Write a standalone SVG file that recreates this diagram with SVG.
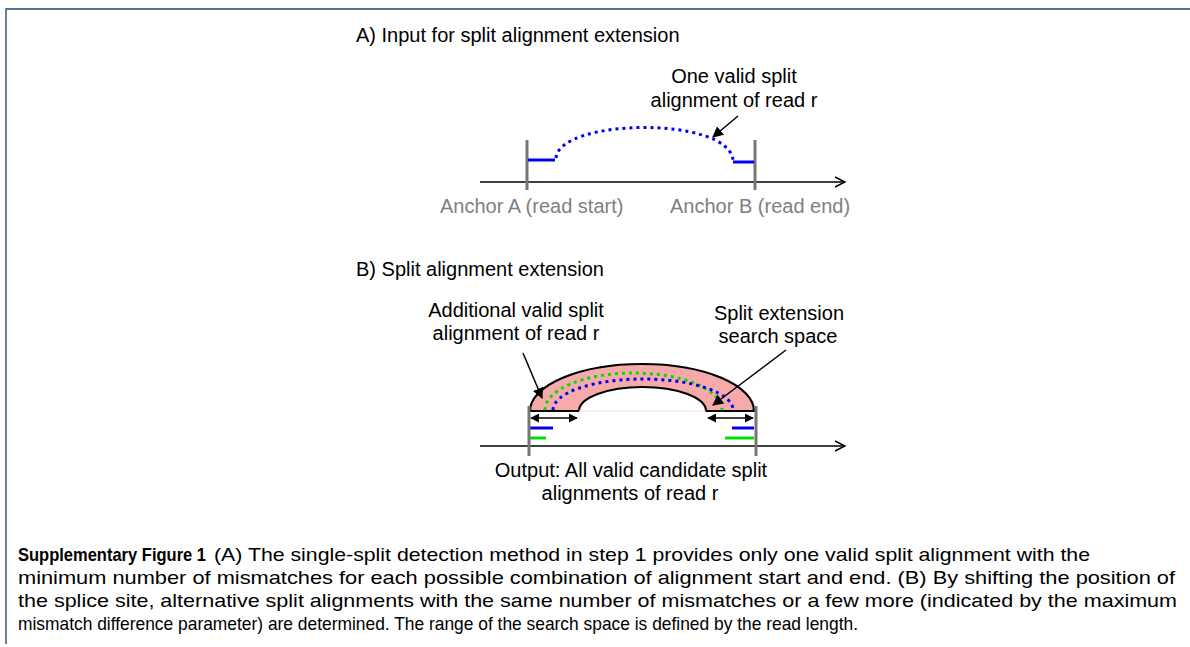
<svg xmlns="http://www.w3.org/2000/svg" width="1190" height="647" viewBox="0 0 1190 647">
<defs>
<style>
.t{font-family:"Liberation Sans",Arial,sans-serif;font-size:20px;fill:#000}
.g{fill:#7f7f7f}
.mid{text-anchor:middle}
.cap{font-family:"Liberation Sans",Arial,sans-serif;font-size:19px;fill:#000}
.axis{stroke:#000;stroke-width:1.5;fill:none}
.tick{stroke:#767676;stroke-width:3;fill:none}
.blue{stroke:#0000ee;stroke-width:3;fill:none}
.green{stroke:#00dd00;stroke-width:3;fill:none}
.bdot{stroke:#0000ee;stroke-width:3;fill:none;stroke-dasharray:3 4}
.gdot{stroke:#00dd00;stroke-width:3;fill:none;stroke-dasharray:3 4}
.ptr{stroke:#000;stroke-width:1.5;fill:none}
</style>
<marker id="open" viewBox="0 0 12 12" refX="11" refY="6" markerWidth="12" markerHeight="12" markerUnits="userSpaceOnUse" orient="auto">
<path d="M1,1 L11,6 L1,11" fill="none" stroke="#000" stroke-width="1.5"/>
</marker>
<marker id="solid" viewBox="0 0 10 10" refX="9" refY="5" markerWidth="11" markerHeight="11" markerUnits="userSpaceOnUse" orient="auto">
<path d="M0,0 L10,5 L0,10 z" fill="#000"/>
</marker>
<marker id="solidS" viewBox="0 0 10 10" refX="9" refY="5" markerWidth="9" markerHeight="9" markerUnits="userSpaceOnUse" orient="auto-start-reverse">
<path d="M0,0 L10,5 L0,10 z" fill="#000"/>
</marker>
</defs>
<rect width="1190" height="647" fill="#fff"/>
<g id="frame">
<path d="M6,644 L6,9 L1190,9" fill="none" stroke="#557499" stroke-width="1.8"/>
</g>

<g id="panelA">
<text class="t" x="356" y="42">A) Input for split alignment extension</text>
<g id="axisA"><line class="axis" x1="480" y1="182" x2="845" y2="182" marker-end="url(#open)"/></g>
<g id="anchorA"><line class="tick" x1="527" y1="140" x2="527" y2="190"/>
<text class="t g" x="440" y="213">Anchor A (read start)</text></g>
<g id="anchorB"><line class="tick" x1="755" y1="140" x2="755" y2="190"/>
<text class="t g" x="670" y="213">Anchor B (read end)</text></g>
<g id="splitA">
<line class="blue" x1="528" y1="160" x2="555" y2="160"/>
<line class="blue" x1="733" y1="162" x2="754" y2="162"/>
<path class="bdot" d="M556,158 C560,118 728,116 733,160"/>
</g>
<g id="labelA">
<text class="t mid" x="734" y="83">One valid split</text>
<text class="t mid" x="734" y="107">alignment of read r</text>
</g>
</g>

<g id="panelB">
<text class="t" x="356" y="276">B) Split alignment extension</text>
<g id="axisB"><line class="axis" x1="480" y1="446" x2="845" y2="446" marker-end="url(#open)"/></g>
<g id="searchspace">
<path d="M530,411 A112,47 0 0 1 754,411 L706,411 A63.5,24 0 0 0 579,411 Z" fill="#f7aaaa" stroke="none"/>
<path d="M579,411 L530,411 A112,47 0 0 1 754,411 L706,411 A63.5,24 0 0 0 579,411" fill="none" stroke="#000" stroke-width="2.2"/>
<line x1="579" y1="411" x2="706" y2="411" stroke="#fbe0e0" stroke-width="1"/>
</g>
<g id="splitsB">
<path class="gdot" d="M545,410 A88.5,37 0 0 1 722,410"/>
<path class="bdot" d="M553,410 A90,31 0 0 1 733,410"/>
<line class="blue" x1="530" y1="428" x2="553" y2="428"/>
<line class="blue" x1="732" y1="428" x2="754" y2="428"/>
<line class="green" x1="530" y1="438" x2="546" y2="438"/>
<line class="green" x1="725" y1="438" x2="754" y2="438"/>
</g>
<g id="ticksB">
<line class="tick" x1="529" y1="406" x2="529" y2="456"/>
<line class="tick" x1="756" y1="406" x2="756" y2="456"/>
</g>
<g id="ranges">
<line class="ptr" x1="531" y1="418" x2="577" y2="418" marker-start="url(#solidS)" marker-end="url(#solidS)"/>
<line class="ptr" x1="708" y1="418" x2="753" y2="418" marker-start="url(#solidS)" marker-end="url(#solidS)"/>
</g>
<g id="labelAdditional">
<text class="t mid" x="516" y="317">Additional valid split</text>
<text class="t mid" x="516" y="340">alignment of read r</text>
</g>
<g id="labelSearch">
<text class="t mid" x="779" y="320">Split extension</text>
<text class="t mid" x="778" y="343">search space</text>
</g>
<g id="labelOutput">
<text class="t mid" x="631" y="477">Output: All valid candidate split</text>
<text class="t mid" x="630" y="500">alignments of read r</text>
</g>
</g>

<g id="connectors">
<line class="ptr" x1="738" y1="116" x2="713" y2="137" marker-end="url(#solid)"/>
<line class="ptr" x1="523" y1="353" x2="542" y2="398" marker-end="url(#solid)"/>
<line class="ptr" x1="786" y1="350" x2="713" y2="405" marker-end="url(#solid)"/>
</g>

<g id="caption">
<text class="cap" y="561"><tspan x="18" font-weight="bold" textLength="188" lengthAdjust="spacingAndGlyphs">Supplementary Figure 1</tspan><tspan x="214" textLength="876" lengthAdjust="spacingAndGlyphs">(A) The single-split detection method in step 1 provides only one valid split alignment with the</tspan></text>
<text class="cap" x="18" y="584" textLength="1157" lengthAdjust="spacingAndGlyphs">minimum number of mismatches for each possible combination of alignment start and end. (B) By shifting the position of</text>
<text class="cap" x="18" y="607" textLength="1159" lengthAdjust="spacingAndGlyphs">the splice site, alternative split alignments with the same number of mismatches or a few more (indicated by the maximum</text>
<text class="cap" x="18" y="630" textLength="840" lengthAdjust="spacingAndGlyphs">mismatch difference parameter) are determined. The range of the search space is defined by the read length.</text>
</g>
</svg>
